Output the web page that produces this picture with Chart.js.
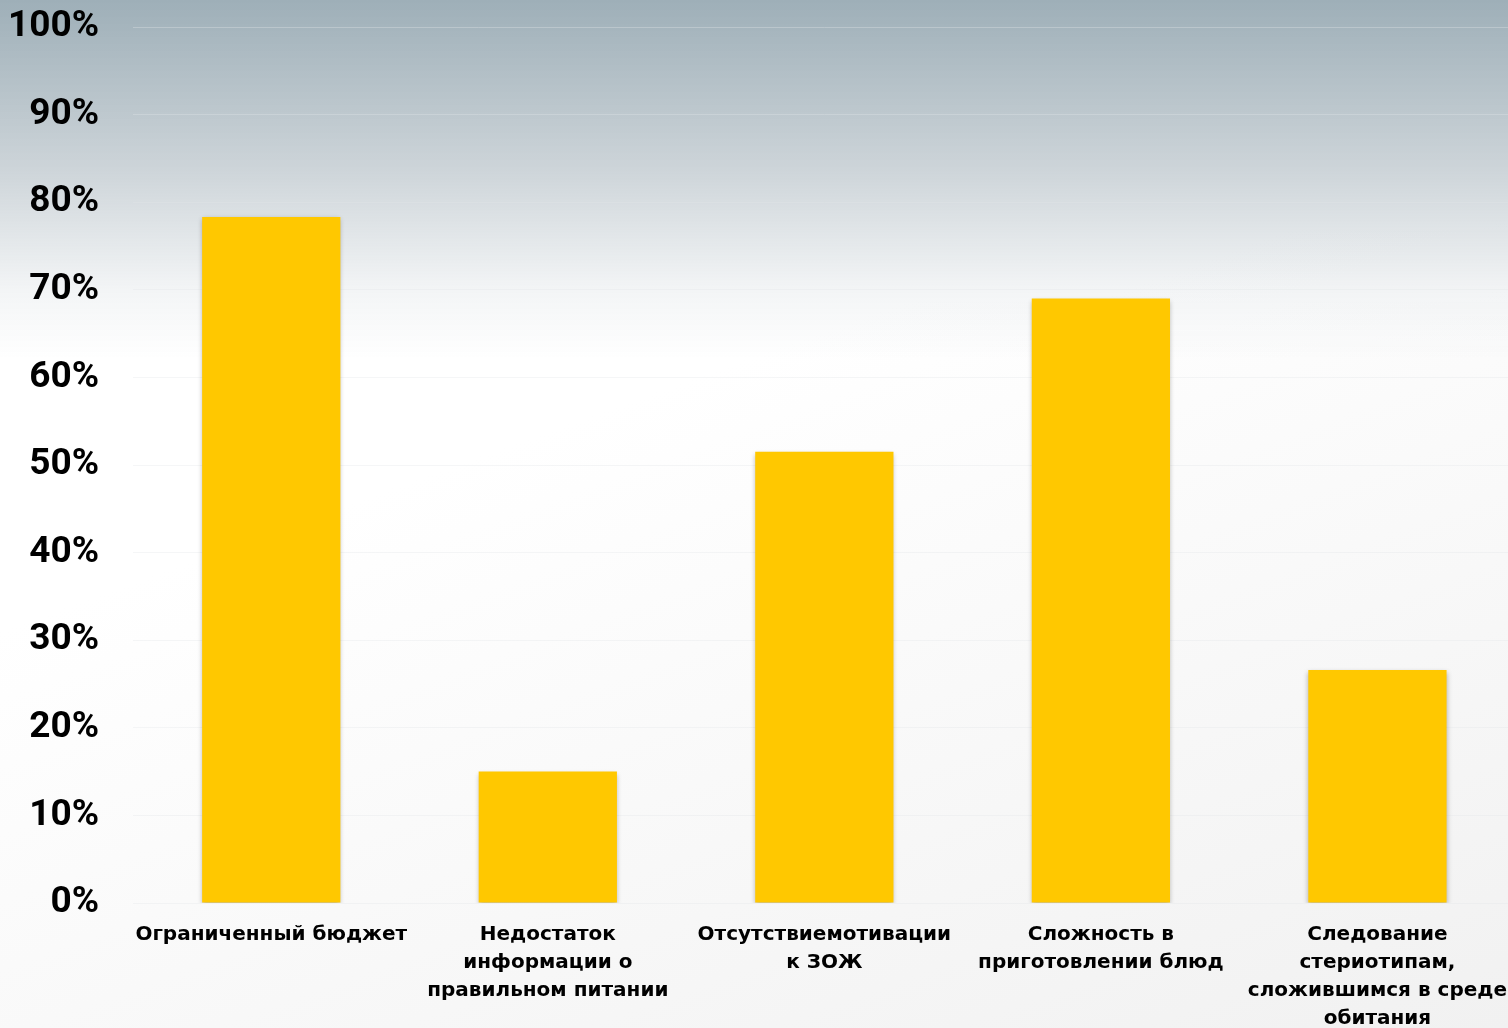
<!DOCTYPE html>
<html lang="ru">
<head>
    <meta charset="UTF-8">
    <title>Причины</title>
    <script src="https://cdn.jsdelivr.net/npm/chart.js"></script>
    <style>
        html, body {
            margin: 0;
            padding: 0;
            overflow: hidden;
            width: 1508px;
            height: 1028px;
        }
        body {
            background:
                linear-gradient(to bottom, rgba(158, 175, 184, 1) 0px, rgba(200, 208, 213, 0.9) 170px, rgba(235, 238, 240, 0.6) 290px, rgba(255, 255, 255, 0) 360px),
                linear-gradient(160deg, #ffffff 40%, #f1f1f1 100%);
        }
        .chart-box {
            position: absolute;
            left: 0;
            top: 0;
            width: 1517px;
            height: 1028px;
        }
    </style>
</head>
<body>
    <div class="chart-box">
        <canvas id="reasonsChart"></canvas>
    </div>

    <script>
        const categories = [
            ['Ограниченный бюджет'],
            ['Недостаток', 'информации о', 'правильном питании'],
            ['Отсутствиемотивации', 'к ЗОЖ'],
            ['Сложность в', 'приготовлении блюд'],
            ['Следование', 'стериотипам,', 'сложившимся в среде', 'обитания']
        ];
        const shares = [78.3, 15, 51.5, 69, 26.6];
        const yTicks = [0, 10, 20, 30, 40, 50, 60, 70, 80, 90, 100];

        // soft shadow under the bars
        const barShadow = {
            id: 'barShadow',
            beforeDatasetsDraw(chart) {
                const ctx = chart.ctx;
                ctx.save();
                ctx.shadowColor = 'rgba(0, 0, 0, 0.3)';
                ctx.shadowBlur = 5;
                ctx.shadowOffsetX = 0;
                ctx.shadowOffsetY = 2;
            },
            afterDatasetsDraw(chart) {
                chart.ctx.restore();
            }
        };

        const ctx = document.getElementById('reasonsChart').getContext('2d');
        new Chart(ctx, {
            type: 'bar',
            data: {
                labels: categories,
                datasets: [{
                    data: shares,
                    backgroundColor: '#ffc800',
                    barPercentage: 0.5,
                    categoryPercentage: 1
                }]
            },
            options: {
                responsive: true,
                maintainAspectRatio: false,
                animation: false,
                layout: {
                    padding: 0
                },
                plugins: {
                    legend: { display: false },
                    tooltip: { enabled: false }
                },
                scales: {
                    y: {
                        min: 0,
                        max: 100,
                        afterBuildTicks(scale) {
                            scale.ticks = yTicks.map(v => ({ value: v }));
                        },
                        afterFit(scale) {
                            scale.width = 133;
                            scale.paddingTop = 27;
                            scale.paddingBottom = 0;
                        },
                        border: { display: false },
                        grid: {
                            color: 'rgba(225, 230, 233, 0.35)',
                            lineWidth: 1,
                            drawTicks: false
                        },
                        ticks: {
                            padding: 34,
                            color: '#000',
                            font: { family: 'Roboto', weight: 'bold', size: 37 },
                            callback: v => v + '%'
                        }
                    },
                    x: {
                        afterFit(scale) {
                            scale.height = 125;
                        },
                        border: { display: false },
                        grid: { display: false },
                        ticks: {
                            padding: 10,
                            maxRotation: 0,
                            autoSkip: false,
                            color: '#000',
                            font: { family: 'DejaVu Sans', weight: 'bold', size: 20, lineHeight: 1.4 }
                        }
                    }
                }
            },
            plugins: [barShadow]
        });
    </script>
</body>
</html>
